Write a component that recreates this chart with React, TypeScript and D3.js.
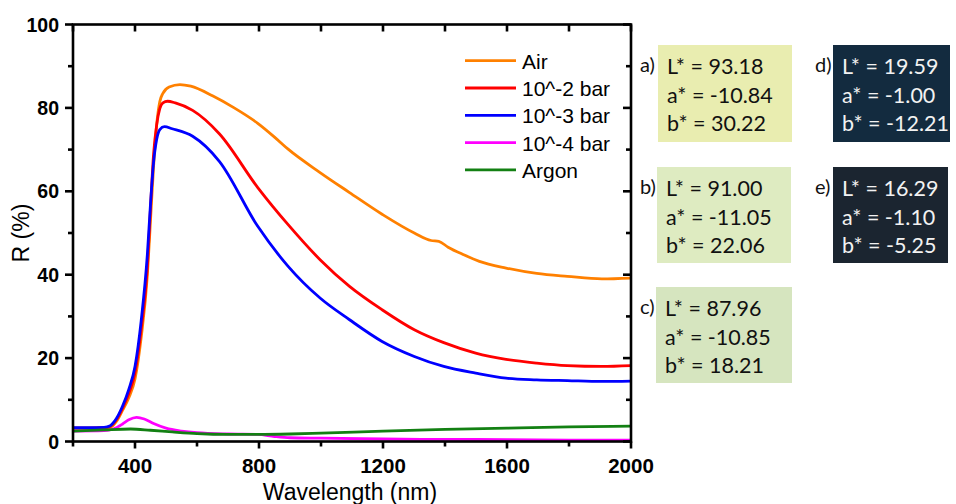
import React from "react";
import * as d3 from "d3";

// ---------- data ----------
const airWl = [200, 250, 300, 320, 340, 360, 380, 400, 420, 440, 450, 460, 470, 480, 490, 510, 545, 580, 650, 720, 796, 850, 894, 997, 1092, 1197, 1301, 1355, 1380, 1410, 1460, 1511, 1597, 1696, 1795, 1906, 2000];
const airR = [3.2, 3.2, 3.2, 3.4, 4.8, 7.5, 10.5, 15, 25, 40, 53, 66, 76, 81.5, 83.5, 85, 85.6, 85.2, 82.9, 80, 76.3, 73, 70.1, 64.5, 59.7, 54.5, 50, 48.2, 48.0, 46.6, 44.8, 43.2, 41.6, 40.3, 39.6, 39, 39.2];

const bar2Wl = [200, 250, 300, 320, 340, 360, 380, 400, 420, 440, 450, 460, 470, 480, 490, 505, 530, 586, 672, 796, 894, 997, 1092, 1197, 1301, 1396, 1499, 1597, 1696, 1795, 1906, 2000];
const bar2R = [3.2, 3.2, 3.3, 3.6, 5.2, 8.0, 11.5, 16.5, 27, 42, 56, 69, 76, 79.8, 81.2, 81.6, 81.2, 79.4, 73.8, 60.9, 52, 43.6, 37.2, 31.6, 26.8, 23.7, 21.2, 19.7, 18.8, 18.2, 18, 18.2];

const bar3Wl = [200, 250, 300, 320, 340, 360, 380, 400, 420, 440, 450, 460, 470, 480, 495, 520, 586, 672, 796, 894, 997, 1092, 1197, 1301, 1396, 1499, 1597, 1696, 1795, 1906, 2000];
const bar3R = [3.3, 3.3, 3.4, 3.8, 5.5, 8.5, 12.5, 18, 29, 45, 57, 67, 72.5, 74.8, 75.5, 75.0, 73.2, 67.2, 51.6, 42, 34.4, 29.2, 24, 20.4, 18, 16.4, 15.2, 14.8, 14.6, 14.4, 14.5];

const bar4Wl = [200, 300, 330, 360, 380, 405, 430, 460, 500, 550, 600, 700, 796, 850, 900, 1000, 1200, 1400, 1600, 1800, 2000];
const bar4R = [2.5, 2.6, 3.0, 4.2, 5.2, 5.8, 5.4, 4.3, 3.2, 2.5, 2.1, 1.8, 1.7, 1.2, 0.9, 0.8, 0.6, 0.5, 0.45, 0.35, 0.3];

const argonWl = [200, 300, 386, 450, 520, 600, 700, 796, 900, 1000, 1200, 1400, 1600, 1800, 2000];
const argonR = [2.5, 2.8, 3.0, 2.7, 2.3, 1.9, 1.7, 1.7, 1.8, 2.0, 2.5, 2.9, 3.2, 3.5, 3.7];

const seriesNames = ["Air", "10^-2 bar", "10^-3 bar", "10^-4 bar", "Argon"];
const seriesColors = ["#FF8000", "#FF0000", "#0000FF", "#FF00FF", "#138013"];
const seriesWl = [airWl, bar2Wl, bar3Wl, bar4Wl, argonWl];
const seriesR = [airR, bar2R, bar3R, bar4R, argonR];

const xTickLabels = [400, 800, 1200, 1600, 2000];
const yTickLabels = [0, 20, 40, 60, 80, 100];

const boxLabels = ["a)", "b)", "c)", "d)", "e)"];
const boxL = ["93.18", "91.00", "87.96", "19.59", "16.29"];
const boxA = ["-10.84", "-11.05", "-10.85", "-1.00", "-1.10"];
const boxB = ["30.22", "22.06", "18.21", "-12.21", "-5.25"];
const boxFill = ["#E9EDB0", "#DEEBC1", "#D6E5BF", "#132B3F", "#1B2530"];
const boxText = ["#111", "#111", "#111", "#F2F2F2", "#F2F2F2"];

// ---------- layout ----------
const W = 956, H = 504;
const PL = 73, PR = 631, PT = 24.5, PB = 441.5;

export default function App() {
  const x = d3.scaleLinear().domain([200, 2000]).range([PL, PR]);
  const y = d3.scaleLinear().domain([0, 100]).range([PB, PT]);
  const line = d3
    .line<[number, number]>()
    .x((d) => x(d[0]))
    .y((d) => y(d[1]))
    .curve(d3.curveMonotoneX);

  const xTicks = d3.range(200, 2001, 200);
  const yTicks = d3.range(0, 101, 10);
  const axisW = 2.6;

  const boxPos = [
    { bx: 658, by: 45, lx: 640 },
    { bx: 657, by: 167, lx: 640 },
    { bx: 656, by: 287, lx: 640 },
    { bx: 833, by: 45, lx: 815 },
    { bx: 833, by: 167, lx: 815 },
  ];
  const boxW = [134, 134, 136, 117, 115];
  const boxH = [97, 96, 96, 97, 96];

  return (
    <svg
      width={W}
      height={H}
      style={{ position: "absolute", left: 0, top: 0, background: "#fff" }}
      fontFamily="Arial, 'Liberation Sans', sans-serif"
    >
      <defs>
        <clipPath id="plotclip">
          <rect x={PL} y={PT} width={PR - PL} height={PB - PT} />
        </clipPath>
      </defs>

      {/* data */}
      <g clipPath="url(#plotclip)">
        {seriesNames.map((n, i) => (
          <path
            key={n}
            d={line(seriesWl[i].map((w, j) => [w, seriesR[i][j]] as [number, number])) || ""}
            fill="none"
            stroke={seriesColors[i]}
            strokeWidth={2.8}
            strokeLinejoin="round"
          />
        ))}
      </g>

      {/* frame */}
      <rect x={PL} y={PT} width={PR - PL} height={PB - PT} fill="none" stroke="#000" strokeWidth={axisW} />

      {/* x ticks bottom (outward) and top (inward) */}
      {xTicks.map((t) => {
        const major = t % 400 === 0;
        return (
          <g key={"xt" + t}>
            <line x1={x(t)} x2={x(t)} y1={PB} y2={PB + (major ? 7 : 5)} stroke="#000" strokeWidth={axisW} />
            <line x1={x(t)} x2={x(t)} y1={PT} y2={PT + 7} stroke="#000" strokeWidth={axisW} />
          </g>
        );
      })}
      {xTickLabels.map((t) => (
        <text key={"xl" + t} x={x(t)} y={473} textAnchor="middle" fontSize={20.5} fontWeight="bold">
          {t}
        </text>
      ))}

      {/* y ticks left (outward) and right (inward) */}
      {yTicks.map((t) => {
        const major = t % 20 === 0;
        return (
          <g key={"yt" + t}>
            <line x1={PL} x2={PL - (major ? 8 : 5)} y1={y(t)} y2={y(t)} stroke="#000" strokeWidth={axisW} />
            <line x1={PR} x2={PR - (major ? 8 : 5)} y1={y(t)} y2={y(t)} stroke="#000" strokeWidth={axisW} />
          </g>
        );
      })}
      {yTickLabels.map((t) => (
        <text key={"yl" + t} x={PL - 14} y={y(t) + 7} textAnchor="end" fontSize={19.5} fontWeight="bold">
          {t}
        </text>
      ))}

      {/* axis titles */}
      <text x={350} y={500} textAnchor="middle" fontSize={23}>
        Wavelength (nm)
      </text>
      <text transform={`translate(29,233) rotate(-90)`} textAnchor="middle" fontSize={23}>
        R (%)
      </text>

      {/* legend */}
      {seriesNames.map((n, i) => {
        const ly = 60.7 + i * 27.3;
        return (
          <g key={"lg" + n}>
            <line x1={465} x2={516} y1={ly} y2={ly} stroke={seriesColors[i]} strokeWidth={2.8} />
            <text x={522} y={ly + 8} fontSize={21}>
              {n}
            </text>
          </g>
        );
      })}

      {/* colour boxes */}
      {boxLabels.map((lab, i) => {
        const p = boxPos[i];
        return (
          <g key={"bx" + lab} fontFamily="Lato, 'Open Sans', sans-serif">
            <rect x={p.bx} y={p.by} width={boxW[i]} height={boxH[i]} fill={boxFill[i]} />
            <text x={p.lx} y={p.by + 27} fontSize={20} fill="#111">
              {lab}
            </text>
            <text x={p.bx + 9} y={p.by + 29} fontSize={21.5} fill={boxText[i]}>
              {`L* = ${boxL[i]}`}
            </text>
            <text x={p.bx + 9} y={p.by + 58} fontSize={21.5} fill={boxText[i]}>
              {`a* = ${boxA[i]}`}
            </text>
            <text x={p.bx + 9} y={p.by + 86} fontSize={21.5} fill={boxText[i]}>
              {`b* = ${boxB[i]}`}
            </text>
          </g>
        );
      })}
    </svg>
  );
}
